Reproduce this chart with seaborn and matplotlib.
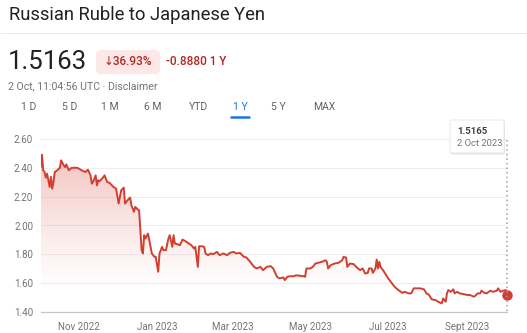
import numpy as np
import pandas as pd
import matplotlib
matplotlib.use("Agg")
import matplotlib.pyplot as plt
import matplotlib.dates as mdates
from matplotlib.patches import FancyBboxPatch
from matplotlib.lines import Line2D
import seaborn as sns

# ---------------- data ----------------
start_date = "2022-10-02"
day_offsets = [0, 1, 2, 3, 4, 5, 7, 8, 9, 10, 11, 13, 15, 16, 18, 19, 20, 22, 24, 27, 29, 32, 35,
               37, 39, 40, 41, 43, 44, 45, 46, 48, 50, 52, 54, 57, 59, 61, 63, 65, 66, 68, 70,
               71, 73, 74, 76, 77, 78, 79, 80, 81, 82, 84, 85, 87, 89, 90, 92, 93, 95, 96, 98,
               100, 101, 103, 104, 105, 107, 109, 111, 113, 116, 118, 120, 121, 123, 124, 126,
               128, 129, 131, 133, 135, 138, 140, 143, 146, 148, 151, 153, 156, 159, 161, 164,
               167, 169, 172, 174, 177, 180, 182, 185, 187, 190, 191, 193, 195, 198, 200, 203,
               206, 207, 208, 211, 213, 215, 217, 220, 223, 224, 225, 227, 230, 233, 236, 237,
               239, 240, 242, 245, 247, 250, 252, 254, 256, 257, 259, 260, 262, 263, 264, 265,
               266, 268, 270, 272, 275, 277, 280, 283, 285, 288, 290, 292, 294, 297, 300, 302,
               304, 306, 309, 311, 314, 315, 317, 318, 319, 321, 323, 324, 326, 328, 331, 334,
               336, 339, 340, 342, 344, 345, 347, 349, 352, 354, 357, 358, 360, 362, 364, 365]
rates = [2.405, 2.491, 2.383, 2.371, 2.332, 2.360, 2.267, 2.337, 2.256, 2.302, 2.371, 2.383,
         2.401, 2.452, 2.417, 2.405, 2.424, 2.383, 2.399, 2.401, 2.399, 2.383, 2.371, 2.387,
         2.348, 2.290, 2.302, 2.348, 2.279, 2.314, 2.306, 2.325, 2.348, 2.302, 2.295, 2.267,
         2.256, 2.152, 2.244, 2.263, 2.152, 2.175, 2.194, 2.141, 2.095, 2.129, 2.111, 2.106,
         1.967, 1.829, 1.806, 1.933, 1.910, 1.944, 1.898, 1.806, 1.783, 1.783, 1.679, 1.806,
         1.852, 1.829, 1.829, 1.910, 1.933, 1.852, 1.933, 1.875, 1.870, 1.863, 1.902, 1.893,
         1.875, 1.863, 1.840, 1.852, 1.713, 1.856, 1.856, 1.852, 1.806, 1.794, 1.806, 1.801,
         1.817, 1.794, 1.806, 1.794, 1.810, 1.817, 1.806, 1.810, 1.783, 1.778, 1.748, 1.713,
         1.702, 1.713, 1.690, 1.713, 1.718, 1.702, 1.644, 1.633, 1.640, 1.621, 1.644, 1.648,
         1.648, 1.655, 1.651, 1.648, 1.644, 1.702, 1.702, 1.713, 1.736, 1.741, 1.748, 1.759,
         1.748, 1.702, 1.725, 1.736, 1.741, 1.759, 1.782, 1.778, 1.713, 1.736, 1.732, 1.713,
         1.690, 1.702, 1.667, 1.671, 1.702, 1.702, 1.671, 1.702, 1.764, 1.702, 1.748, 1.713,
         1.690, 1.662, 1.633, 1.598, 1.575, 1.552, 1.533, 1.540, 1.529, 1.529, 1.564, 1.564,
         1.564, 1.557, 1.529, 1.518, 1.488, 1.483, 1.471, 1.460, 1.494, 1.471, 1.529, 1.552,
         1.540, 1.557, 1.529, 1.540, 1.529, 1.524, 1.518, 1.518, 1.506, 1.511, 1.529, 1.529,
         1.548, 1.534, 1.529, 1.548, 1.540, 1.548, 1.564, 1.540, 1.548, 1.552, 1.5165]

y_ticks = [1.40, 1.60, 1.80, 2.00, 2.20, 2.40, 2.60]
x_tick_dates = ["2022-11-01", "2023-01-01", "2023-03-01", "2023-05-01", "2023-07-01", "2023-09-01"]
x_tick_labels = ["Nov 2022", "Jan 2023", "Mar 2023", "May 2023", "Jul 2023", "Sept 2023"]

title = "Russian Ruble to Japanese Yen"
price_text = "1.5163"
pct_text = "\u219336.93%"
change_text = "-0.8880 1 Y"
stamp_text = "2 Oct, 11:04:56 UTC \u00b7 Disclaimer"
tabs = ["1 D", "5 D", "1 M", "6 M", "YTD", "1 Y", "5 Y", "MAX"]
active_tab = "1 Y"
tip_value = "1.5165"
tip_date = "2 Oct 2023"

# ---------------- style ----------------
sns.set_theme(style="white")
plt.rcParams["font.family"] = ["Roboto", "DejaVu Sans"]

RED = "#d23f31"
GRAY = "#70757a"
DARK = "#202124"

W, H = 527, 333
fig = plt.figure(figsize=(W / 100, H / 100), dpi=100)
fig.patch.set_facecolor("white")

def fx(px):
    return px / W

def fy(py):
    return 1 - py / H

ax_left, ax_right, ax_top, ax_bot = 40.7, 507, 139, 312
ax = fig.add_axes([fx(ax_left), fy(ax_bot), fx(ax_right - ax_left), (ax_bot - ax_top) / H])

df = pd.DataFrame({
    "date": pd.Timestamp(start_date) + pd.to_timedelta(day_offsets, unit="D"),
    "rate": rates,
})

sns.lineplot(data=df, x="date", y="rate", ax=ax, color=RED, linewidth=1.4, zorder=3)

ax.set_ylim(y_ticks[0], y_ticks[-1])
ax.set_xlim(df["date"].iloc[0], df["date"].iloc[-1])

# gradient fill under the line
xnum = mdates.date2num(df["date"])
poly = ax.fill_between(xnum, df["rate"], y_ticks[0], facecolor="none", edgecolor="none")
top_v = max(rates)
ny = 300
vals = np.linspace(top_v, y_ticks[0], ny)
a = np.clip((vals - 1.55) / (top_v - 1.55), 0, 1) ** 1.2 * 0.32
rgba = np.zeros((ny, 1, 4))
rgba[..., 0] = 0.86
rgba[..., 1] = 0.27
rgba[..., 2] = 0.22
rgba[:, 0, 3] = a
im = ax.imshow(rgba, extent=[xnum[0], xnum[-1], y_ticks[0], top_v], aspect="auto",
               origin="upper", zorder=2, interpolation="bilinear")
im.set_clip_path(poly.get_paths()[0], transform=ax.transData)

# end dot
ax.plot([xnum[-1]], [rates[-1]], "o", color=RED, markersize=6.5, zorder=5, clip_on=False)

# grid & axes
ax.set_yticks(y_ticks)
ax.set_yticklabels([f"{v:.2f}" for v in y_ticks])
ax.set_xticks(pd.to_datetime(x_tick_dates))
ax.set_xticklabels(x_tick_labels)
for v in y_ticks[1:]:
    ax.axhline(v, color="#eeeeee", linewidth=0.8, zorder=1)
for s in ["left", "right", "top"]:
    ax.spines[s].set_visible(False)
ax.spines["bottom"].set_color("#c4c7c5")
ax.spines["bottom"].set_linewidth(0.9)
ax.tick_params(axis="y", length=0, pad=5.5, labelsize=7, labelcolor=GRAY)
ax.tick_params(axis="x", length=3, width=1.1, color="#5f6368", pad=4, labelsize=7, labelcolor=GRAY,
               direction="out")
ax.set_xlabel("")
ax.set_ylabel("")
ax.grid(False)
ax.set_facecolor("none")

# dotted vertical marker
fig.add_artist(Line2D([fx(507), fx(507)], [fy(140), fy(312)], color="#9aa0a6", linewidth=1.1,
                      linestyle=(0, (1, 2)), transform=fig.transFigure))

# tooltip
shadow = FancyBboxPatch((fx(451), fy(154.5)), fx(54), (34) / H, boxstyle="round,pad=0,rounding_size=0.004",
                        transform=fig.transFigure, facecolor="#e6e6e6", edgecolor="none", zorder=9)
fig.add_artist(shadow)
box = FancyBboxPatch((fx(450), fy(153)), fx(54), (33) / H, boxstyle="round,pad=0,rounding_size=0.004",
                     transform=fig.transFigure, facecolor="white", edgecolor="#e3e3e3", linewidth=0.6,
                     zorder=10)
fig.add_artist(box)
fig.text(fx(457), fy(131), tip_value, fontsize=6.8, fontweight="bold", color="#3c4043", va="center",
         zorder=11)
fig.text(fx(457), fy(144), tip_date, fontsize=6.8, color=GRAY, va="center", zorder=11)

# header
fig.text(fx(9), fy(15), title, fontsize=13.2, color=DARK, va="center")
fig.add_artist(Line2D([0, 1], [fy(33), fy(33)], color="#e8eaed", linewidth=0.8,
                      transform=fig.transFigure))
fig.text(fx(8), fy(62), price_text, fontsize=18.5, color=DARK, va="center")
badge = FancyBboxPatch((fx(96), fy(74)), fx(64), 24 / H, boxstyle="round,pad=0,rounding_size=0.012",
                       transform=fig.transFigure, facecolor="#fce8e6", edgecolor="none")
fig.add_artist(badge)
fig.text(fx(128), fy(61.5), pct_text, fontsize=8.5, color="#b3261e", va="center", ha="center",
         fontweight="medium")
fig.text(fx(166), fy(61.5), change_text, fontsize=8.5, color="#b3261e", va="center", fontweight="medium")
fig.text(fx(8), fy(86), stamp_text, fontsize=7.6, color=GRAY, va="center")

tab_x = [29, 69.5, 110, 153, 198, 240, 278, 324]
for label, x in zip(tabs, tab_x):
    col = "#1a73e8" if label == active_tab else "#5f6368"
    fig.text(fx(x), fy(107), label, fontsize=7.5, color=col, va="center", ha="center")
    if label == active_tab:
        fig.add_artist(Line2D([fx(x - 9), fx(x + 9)], [fy(117), fy(117)], color="#1a73e8",
                              linewidth=1.8, solid_capstyle="round", transform=fig.transFigure))

fig.savefig("out.png", dpi=100, facecolor="white")
